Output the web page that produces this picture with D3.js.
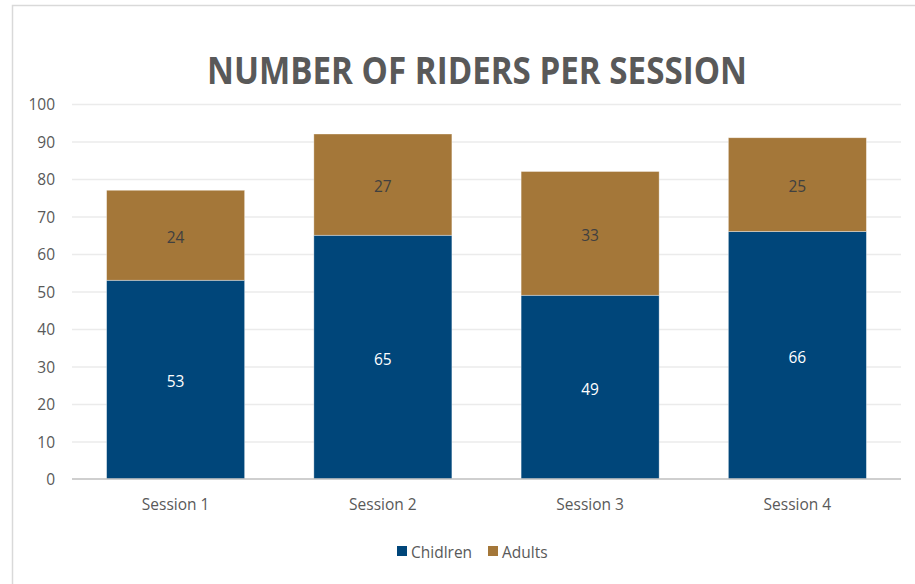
<!DOCTYPE html>
<html>
<head>
<meta charset="utf-8">
<script src="https://cdn.jsdelivr.net/npm/d3@7"></script>
<style>
  body { margin: 0; background: #fff; }
  text { font-family: "Open Sans", sans-serif; }
</style>
</head>
<body>
<div id="chart"></div>
<script>
let sessions = ['Session 1', 'Session 2', 'Session 3', 'Session 4'];
let children = [53, 65, 49, 66];
let adults = [24, 27, 33, 25];
let seriesNames = ['Chidlren', 'Adults'];
let yTicks = [0, 10, 20, 30, 40, 50, 60, 70, 80, 90, 100];

let colors = ['#00467a', '#a47739'];
let width = 915, height = 584;
let margin = { top: 104, right: 14, bottom: 105, left: 72 };

let svg = d3.select('#chart').append('svg')
            .attr('width', width)
            .attr('height', height);

// chart frame
svg.append('rect')
   .attr('x', 12.5).attr('y', 5.5)
   .attr('width', 920).attr('height', 600)
   .attr('fill', '#fff')
   .attr('stroke', '#d9d9d9')
   .attr('stroke-width', 1.5);

let xScale = d3.scaleBand()
               .domain(sessions)
               .range([margin.left, width - margin.right])
               .paddingInner(0.334)
               .paddingOuter(0.167);

let yScale = d3.scaleLinear()
               .domain([0, 100])
               .range([height - margin.bottom, margin.top]);

// gridlines
svg.append('g')
   .attr('class', 'grid')
   .attr('transform', `translate(${margin.left}, 0)`)
   .call(d3.axisLeft(yScale)
           .tickValues(yTicks.slice(1))
           .tickSize(-(width - margin.left - margin.right))
           .tickFormat(''))
   .call(g => g.select('.domain').remove())
   .selectAll('line')
   .attr('stroke', '#ebebeb')
   .attr('stroke-width', 1.5);

// y-axis labels
svg.append('g')
   .attr('class', 'yaxis')
   .attr('transform', `translate(${margin.left}, 1)`)
   .call(d3.axisLeft(yScale).tickValues(yTicks).tickSize(0).tickPadding(17))
   .call(g => g.select('.domain').remove())
   .selectAll('text')
   .style('font-size', '15.5px')
   .attr('fill', '#595959');

// stacked data
let table = sessions.map((s, i) => ({ session: s, Chidlren: children[i], Adults: adults[i] }));
let stacked = d3.stack().keys(seriesNames)(table);

let layers = svg.selectAll('g.layer')
                .data(stacked)
                .enter()
                .append('g')
                .attr('class', 'layer')
                .attr('fill', (d, i) => colors[i]);

layers.selectAll('rect')
      .data(d => d)
      .enter()
      .append('rect')
      .attr('x', d => xScale(d.data.session))
      .attr('width', xScale.bandwidth())
      .attr('y', d => yScale(d[1]))
      .attr('height', d => yScale(d[0]) - yScale(d[1]))
      .attr('stroke', '#ffffff')
      .attr('stroke-opacity', 0.5)
      .attr('stroke-width', 0.7);

// data labels
layers.selectAll('text')
      .data(d => d)
      .enter()
      .append('text')
      .attr('x', d => xScale(d.data.session) + xScale.bandwidth() / 2)
      .attr('y', d => (yScale(d[0]) + yScale(d[1])) / 2 + 2)
      .attr('dy', '0.35em')
      .attr('text-anchor', 'middle')
      .style('font-size', '15.5px')
      .attr('fill', function() {
        return d3.select(this.parentNode).datum().key === 'Chidlren' ? '#ffffff' : '#404040';
      })
      .text(d => d[1] - d[0]);

// x-axis
svg.append('g')
   .attr('class', 'xaxis')
   .attr('transform', `translate(0, ${height - margin.bottom})`)
   .call(d3.axisBottom(xScale).tickSize(0).tickPadding(20))
   .call(g => g.select('.domain')
               .attr('d', `M${margin.left},0H${width - margin.right}`)
               .attr('stroke', '#bfbfbf')
               .attr('stroke-width', 1.5))
   .selectAll('text')
   .style('font-size', '15.5px')
   .attr('fill', '#595959');

// title
svg.append('text')
   .attr('x', 477)
   .attr('y', 84)
   .attr('text-anchor', 'middle')
   .attr('textLength', 540)
   .attr('lengthAdjust', 'spacingAndGlyphs')
   .style('font-size', '38px')
   .style('font-weight', 'bold')
   .attr('fill', '#595959')
   .text('NUMBER OF RIDERS PER SESSION');

// legend
let legendX = [397, 488];
let legend = svg.selectAll('g.legend')
                .data(seriesNames)
                .enter()
                .append('g')
                .attr('class', 'legend')
                .attr('transform', (d, i) => `translate(${legendX[i]}, 546)`);

legend.append('rect')
      .attr('width', 10)
      .attr('height', 10)
      .attr('fill', (d, i) => colors[i]);

legend.append('text')
      .attr('x', 14)
      .attr('y', 7)
      .attr('dy', '0.35em')
      .style('font-size', '15.5px')
      .attr('fill', '#595959')
      .text(d => d);
</script>
</body>
</html>
